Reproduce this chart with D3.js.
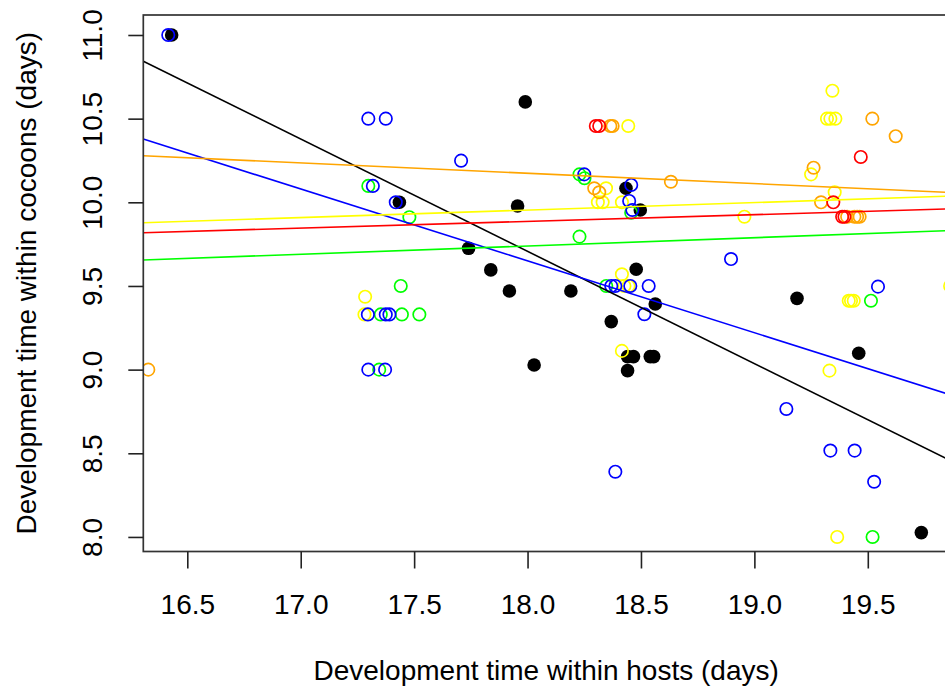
<!DOCTYPE html>
<html>
<head>
<meta charset="utf-8">
<script src="https://cdn.jsdelivr.net/npm/d3@7"></script>
<style>
  html, body { margin: 0; padding: 0; background: #fff; }
  svg { display: block; font-family: "Liberation Sans", Arial, sans-serif; }
</style>
</head>
<body>
<svg id="chart" width="945" height="692"></svg>
<script>
// Development time within hosts (x, days) vs within cocoons (y, days), one series per group
const blackPts = [
  [16.431, 11.0], [17.435, 10.0], [17.990, 10.60], [18.434, 10.084], [17.956, 9.978],
  [18.497, 9.954], [17.740, 9.725], [17.838, 9.596], [17.920, 9.470], [18.191, 9.470],
  [18.479, 9.600], [18.563, 9.392], [18.369, 9.287], [18.441, 9.078], [18.467, 9.078],
  [18.541, 9.078], [18.556, 9.078], [18.029, 9.028], [18.441, 8.994], [19.188, 9.426],
  [19.460, 9.098], [19.736, 8.026]
];
const yellowPts = [
  [18.444, 10.456], [18.346, 10.084], [18.310, 10.0], [18.331, 10.0], [18.416, 10.0],
  [19.344, 10.667], [19.320, 10.5], [19.335, 10.5], [19.357, 10.5], [19.250, 10.167],
  [19.354, 10.06], [18.956, 9.914], [17.284, 9.436], [17.281, 9.33], [18.416, 9.570],
  [18.427, 9.5], [18.445, 9.5], [19.416, 9.412], [19.426, 9.412], [19.438, 9.412],
  [18.416, 9.112], [19.331, 8.994], [19.365, 8.0], [19.863, 9.5]
];
const greenPts = [
  [17.298, 10.098], [17.479, 9.911], [18.229, 10.167], [18.251, 10.144], [18.457, 9.938],
  [17.441, 9.5], [17.353, 9.33], [17.446, 9.33], [17.523, 9.33], [17.346, 9.0],
  [18.229, 9.795], [18.347, 9.5], [19.514, 9.412], [19.521, 8.0]
];
const bluePts = [
  [16.416, 11.0], [17.298, 10.5], [17.375, 10.5], [17.318, 10.098], [17.419, 10.0],
  [17.707, 10.249], [18.250, 10.167], [18.457, 10.104], [18.448, 10.008], [18.462, 9.954],
  [17.296, 9.33], [17.375, 9.33], [17.391, 9.33], [17.298, 9.0], [17.372, 9.0],
  [18.369, 9.5], [18.387, 9.5], [18.453, 9.5], [18.534, 9.5], [18.515, 9.331],
  [18.897, 9.661], [19.545, 9.496], [19.141, 8.765], [18.387, 8.390], [19.335, 8.516],
  [19.442, 8.516], [19.528, 8.330]
];
const orangePts = [
  [18.365, 10.456], [18.375, 10.456], [18.294, 10.084], [18.316, 10.060], [18.632, 10.123],
  [19.520, 10.5], [19.623, 10.395], [19.261, 10.207], [19.294, 10.0], [19.409, 9.914],
  [19.441, 9.914], [19.453, 9.914], [19.464, 9.914], [16.328, 9.0]
];
const redPts = [
  [18.301, 10.456], [18.316, 10.456], [19.469, 10.271], [19.348, 10.0], [19.387, 9.914],
  [19.397, 9.914]
];

// Least-squares fits per group: y = intercept + slope * x
const fitNames      = ["black", "blue", "orange", "yellow", "red", "green"];
const fitIntercepts = [21.785, 17.383, 11.288, 9.149, 9.166, 8.848];
const fitSlopes     = [-0.671, -0.4296, -0.0619, 0.0447, 0.040, 0.0495];

const xTicks = [16.5, 17.0, 17.5, 18.0, 18.5, 19.0, 19.5];
const yTicks = [8.0, 8.5, 9.0, 9.5, 10.0, 10.5, 11.0];
const xLabel = "Development time within hosts (days)";
const yLabel = "Development time within cocoons (days)";

const colors = {
  black: "#000000", blue: "#0000FF", green: "#00FF00",
  yellow: "#FFFF00", orange: "#FFA500", red: "#FF0000"
};

const plot = { left: 143.3, right: 949, top: 15, bottom: 551.5 };
const x = d3.scaleLinear().domain([16.306, 19.858]).range([plot.left, plot.right]);
const y = d3.scaleLinear().domain([7.913, 11.1195]).range([plot.bottom, plot.top]);

const svg = d3.select("#chart");
const fontSize = 28;

svg.append("defs").append("clipPath").attr("id", "plotClip")
  .append("rect")
  .attr("x", plot.left).attr("y", plot.top)
  .attr("width", plot.right - plot.left).attr("height", plot.bottom - plot.top);

const inner = svg.append("g").attr("clip-path", "url(#plotClip)");

// filled points first, open rings on top
inner.append("g").selectAll("circle").data(blackPts).join("circle")
  .attr("cx", d => x(d[0])).attr("cy", d => y(d[1]))
  .attr("r", 6.8).attr("fill", colors.black);

const openSeries = [
  ["yellow", yellowPts], ["green", greenPts], ["blue", bluePts],
  ["orange", orangePts], ["red", redPts]
];
openSeries.forEach(([name, pts]) => {
  inner.append("g").selectAll("circle").data(pts).join("circle")
    .attr("cx", d => x(d[0])).attr("cy", d => y(d[1]))
    .attr("r", 6.2).attr("fill", "none")
    .attr("stroke", colors[name]).attr("stroke-width", 1.7);
});

// regression lines across the full x range
const [x0, x1] = x.domain();
fitNames.forEach((name, i) => {
  const f = v => fitIntercepts[i] + fitSlopes[i] * v;
  inner.append("line")
    .attr("x1", x(x0)).attr("y1", y(f(x0)))
    .attr("x2", x(x1)).attr("y2", y(f(x1)))
    .attr("stroke", colors[name]).attr("stroke-width", 1.6);
});

// plot frame
svg.append("rect")
  .attr("x", plot.left).attr("y", plot.top)
  .attr("width", plot.right - plot.left).attr("height", plot.bottom - plot.top)
  .attr("fill", "none").attr("stroke", "#333").attr("stroke-width", 1.7);

// x axis
const gx = svg.append("g").attr("transform", `translate(0,${plot.bottom})`)
  .call(d3.axisBottom(x).tickValues(xTicks).tickFormat(d3.format(".1f"))
    .tickSize(17).tickPadding(25.6));
gx.select(".domain").remove();
gx.selectAll(".tick line").attr("stroke", "#222").attr("stroke-width", 1.6);
gx.selectAll(".tick text").attr("fill", "#000")
  .style("font-size", fontSize + "px").style("font-family", "Liberation Sans, Arial, sans-serif");

// y axis with rotated labels
const gy = svg.append("g").attr("transform", `translate(${plot.left},0)`)
  .call(d3.axisLeft(y).tickValues(yTicks).tickFormat(d3.format(".1f")).tickSize(15));
gy.select(".domain").remove();
gy.selectAll(".tick line").attr("stroke", "#222").attr("stroke-width", 1.6);
gy.selectAll(".tick text")
  .attr("x", null).attr("dy", null)
  .attr("transform", "translate(-41.5,0) rotate(-90)")
  .attr("text-anchor", "middle").attr("fill", "#000")
  .style("font-size", fontSize + "px").style("font-family", "Liberation Sans, Arial, sans-serif");

// axis titles
svg.append("text")
  .attr("x", (plot.left + plot.right) / 2).attr("y", 679.5)
  .attr("text-anchor", "middle").attr("font-size", fontSize).attr("fill", "#000")
  .text(xLabel);

svg.append("text")
  .attr("transform", `translate(35.5,${(plot.top + plot.bottom) / 2}) rotate(-90)`)
  .attr("text-anchor", "middle").attr("font-size", fontSize).attr("fill", "#000")
  .text(yLabel);
</script>
</body>
</html>
